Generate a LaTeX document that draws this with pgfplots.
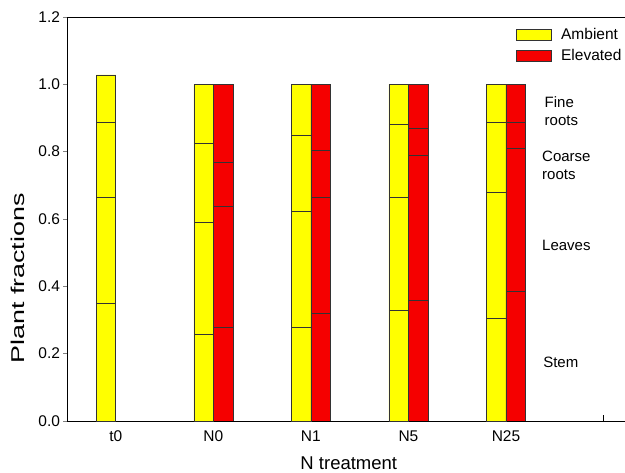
\documentclass[border=0pt]{standalone}
\usepackage{fontspec}
\setmainfont{Liberation Sans}
\usepackage{pgfplots}
\pgfplotsset{compat=1.18}

\definecolor{amb}{RGB}{255,255,0}
\definecolor{elev}{RGB}{245,0,0}

\pgfplotsset{
  plantframe/.style={
    scale only axis, width=558pt, height=404pt,
    xmin=0.5, xmax=6.22, ymin=0, ymax=1.2,
    ybar stacked, bar width=0.2,
  },
  seg/.style={draw=black!80, line width=0.6pt, fill=#1},
}

\begin{document}
\begin{tikzpicture}
\begin{axis}[
  plantframe,
  axis x line*=box, axis y line*=left,
  axis line style={line width=0.8pt},
  xtick={1,2,3,4,5},
  xticklabels={t0,N0,N1,N5,N25},
  xtick pos=left,
  xtick style={draw=none},
  extra x ticks={6},
  extra x tick labels={},
  extra x tick style={xtick style={draw=black, line width=0.6pt}, major tick length=6pt, tick align=inside},
  ytick={0,0.2,0.4,0.6,0.8,1.0,1.2},
  ytick pos=left,
  ytick style={line width=0.6pt},
  tick align=outside,
  major tick length=3.5pt,
  yticklabel style={/pgf/number format/.cd, fixed, fixed zerofill, precision=1, assume math mode=true},
  tick label style={font=\fontsize{15.5}{17}\selectfont},
  xticklabel style={yshift=-3pt},
  xlabel={N treatment},
  ylabel={\scalebox{1.45}[1]{Plant fractions}},
  label style={font=\fontsize{18.5}{20}\selectfont},
  xlabel style={at={(axis description cs:0.505,0)}, anchor=north, inner sep=0pt, yshift=-36pt},
  ylabel style={at={(axis description cs:-0.0878,0.353)}, anchor=center, inner sep=0pt},
  legend image code/.code={\draw[#1] (0pt,-5.5pt) rectangle (35pt,5.5pt);},
  legend style={draw=none, fill=none, inner sep=0pt, row sep=8.5pt,
    font=\fontsize{15.5}{17}\selectfont,
    at={(axis description cs:0.804,0.972)}, anchor=north west,
    nodes={inner sep=0pt},
    /tikz/every odd column/.append style={column sep=9.7pt}},
  legend cell align=left,
  clip=false,
]
% Ambient: stem, leaves, coarse roots, fine roots
\addplot[seg=amb, forget plot] coordinates {(0.9,0.350) (1.9,0.258) (2.9,0.279) (3.9,0.329) (4.9,0.305)};
\addplot[seg=amb, forget plot] coordinates {(0.9,0.315) (1.9,0.331) (2.9,0.343) (3.9,0.335) (4.9,0.373)};
\addplot[seg=amb, forget plot] coordinates {(0.9,0.222) (1.9,0.236) (2.9,0.228) (3.9,0.218) (4.9,0.209)};
\addplot[seg=amb, forget plot] coordinates {(0.9,0.141) (1.9,0.175) (2.9,0.150) (3.9,0.118) (4.9,0.113)};
\addlegendimage{draw=black!80, line width=0.6pt, fill=amb}
\addlegendentry{Ambient}
\addlegendimage{draw=black!80, line width=0.6pt, fill=elev}
\addlegendentry{Elevated}
\node[anchor=west, align=left, inner sep=0pt, font=\fontsize{15}{18}\selectfont] at (axis cs:5.395,0.921) {Fine\\roots};
\node[anchor=west, align=left, inner sep=0pt, font=\fontsize{15}{18}\selectfont] at (axis cs:5.369,0.760) {Coarse\\roots};
\node[anchor=west, inner sep=0pt, font=\fontsize{15}{18}\selectfont] at (axis cs:5.369,0.523) {Leaves};
\node[anchor=west, inner sep=0pt, font=\fontsize{15}{18}\selectfont] at (axis cs:5.38,0.174) {Stem};
\end{axis}
\begin{axis}[plantframe, hide axis]
% Elevated: stem, leaves, coarse roots, fine roots
\addplot[seg=elev] coordinates {(2.1,0.278) (3.1,0.319) (4.1,0.359) (5.1,0.384)};
\addplot[seg=elev] coordinates {(2.1,0.359) (3.1,0.346) (4.1,0.429) (5.1,0.425)};
\addplot[seg=elev] coordinates {(2.1,0.131) (3.1,0.140) (4.1,0.081) (5.1,0.079)};
\addplot[seg=elev] coordinates {(2.1,0.232) (3.1,0.195) (4.1,0.131) (5.1,0.112)};
\end{axis}
\pgfresetboundingbox
\useasboundingbox (-67pt,-52pt) rectangle (558pt,421pt);
\end{tikzpicture}
\end{document}
